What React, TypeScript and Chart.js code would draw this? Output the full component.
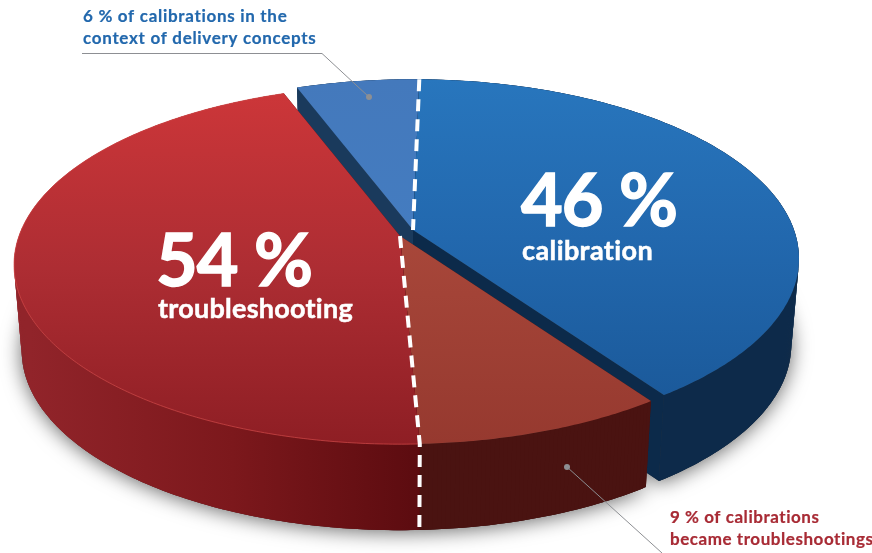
import React, { useEffect, useRef } from "react";
import { Chart, ArcElement, PieController, registerables } from "chart.js";

// Slices run clockwise, starting from the small "delivery concepts" wedge.
const categories = ["delivery concepts", "calibration", "became troubleshootings", "troubleshooting"];
const shares = [6, 40, 9, 45];
const calloutDelivery = ["6 % of calibrations in the", "context of delivery concepts"];
const calloutBecame = ["9 % of calibrations", "became troubleshootings"];
const calibrationTotal = shares[0] + shares[1];
const troubleshootingTotal = shares[2] + shares[3];

// Tilted-disc projection constants.
const PERSPECTIVE = 0.16;
const TILT = 0.459;
const DEPTH = 86;
const CONVERGE = 0.02;
const RADIUS = 381;
const ROTATION = -20.5;

type Stop = [number, string];
type SliceStyle = {
  shift: [number, number];
  top: Stop[];
  rim: Stop[];
  side: string;
  dashed?: boolean;
  rimLine?: string;
};

const sliceStyles: SliceStyle[] = [
  { shift: [13, -6], top: [[0, "#4479bc"], [1, "#447cc0"]], rim: [[0, "#1a3a5c"], [1, "#1a3a5c"]], side: "#1a3a5c" },
  { shift: [13, -6], top: [[0, "#2876bd"], [0.5, "#2268ae"], [1, "#1b5a9b"]], rim: [[0, "#0d2a4a"], [1, "#0d2a4a"]], side: "#0c2a4a", dashed: true },
  { shift: [0, 0], top: [[0, "#a8473a"], [1, "#96392f"]], rim: [[0, "#4c1512"], [1, "#4a1311"]], side: "#4a1311" },
  {
    shift: [0, 0],
    top: [[0, "#cc3639"], [0.5, "#ad2d33"], [1, "#8e1e24"]],
    rim: [[0, "#91242a"], [0.45, "#7c181c"], [0.85, "#5d0c10"], [1, "#520608"]],
    side: "#520608",
    dashed: true,
    rimLine: "rgba(214,72,72,0.7)",
  },
];

type Pt = [number, number];

const project = (x: number, y: number, R: number, u: number, v: number, t = 0): Pt => {
  const w = 1 - PERSPECTIVE * v;
  const px = (R * u) / w;
  const py = (R * TILT * v) / w;
  return [x + px * (1 - CONVERGE * t), y + py + DEPTH * t];
};

const trace = (ctx: CanvasRenderingContext2D, pts: Pt[]) => {
  pts.forEach((p, i) => (i ? ctx.lineTo(p[0], p[1]) : ctx.moveTo(p[0], p[1])));
};

const fillGradient = (
  ctx: CanvasRenderingContext2D,
  stops: Stop[],
  x0: number,
  y0: number,
  x1: number,
  y1: number,
) => {
  const g = ctx.createLinearGradient(x0, y0, x1, y1);
  stops.forEach(([o, c]) => g.addColorStop(o, c));
  return g;
};

// An arc that paints itself as a block seen from above: cut faces and rim first, then the top.
class PerspectiveArc extends ArcElement {
  static id = "perspectiveArc";
  sliceIndex = 0;

  rimPoints(t: number): Pt[] {
    const a0 = (this as any).startAngle as number;
    const a1 = (this as any).endAngle as number;
    const s = sliceStyles[this.sliceIndex];
    const cx = (this as any).x + s.shift[0];
    const cy = (this as any).y + s.shift[1];
    const R = (this as any).outerRadius as number;
    const n = Math.max(2, Math.ceil((a1 - a0) / 0.01));
    const out: Pt[] = [];
    for (let i = 0; i <= n; i++) {
      const a = a0 + ((a1 - a0) * i) / n;
      out.push(project(cx, cy, R, Math.cos(a), Math.sin(a), t));
    }
    return out;
  }

  apex(t: number): Pt {
    const s = sliceStyles[this.sliceIndex];
    return project((this as any).x + s.shift[0], (this as any).y + s.shift[1], 0, 0, 0, t);
  }

  draw(ctx: CanvasRenderingContext2D) {
    const s = sliceStyles[this.sliceIndex];
    const top = this.rimPoints(0);
    const bottom = this.rimPoints(1);
    const a = this.apex(0);
    const b = this.apex(1);
    ctx.save();

    // Cut faces along both radial edges.
    ctx.fillStyle = s.side;
    for (const idx of [0, top.length - 1]) {
      ctx.beginPath();
      trace(ctx, [a, top[idx], bottom[idx], b]);
      ctx.closePath();
      ctx.fill();
    }

    // Outer rim, laid down as overlapping strips so the silhouette stays solid where the rim turns away.
    ctx.fillStyle = this.sliceIndex === 2 ? s.side : fillGradient(ctx, s.rim, 30, 0, 480, 0);
    for (let i = 0; i < top.length - 1; i++) {
      const j = Math.min(i + 2, top.length - 1);
      ctx.beginPath();
      trace(ctx, [top[i], top[j], bottom[j], bottom[i]]);
      ctx.closePath();
      ctx.fill();
    }

    // Top face.
    const ys = top.map((p) => p[1]).concat(a[1]);
    ctx.fillStyle = fillGradient(ctx, s.top, 0, Math.min(...ys), 0, Math.max(...ys));
    ctx.beginPath();
    trace(ctx, [a, ...top]);
    ctx.closePath();
    ctx.fill();

    if (s.rimLine) {
      ctx.strokeStyle = s.rimLine;
      ctx.lineWidth = 1;
      ctx.beginPath();
      trace(ctx, top);
      ctx.stroke();
    }

    // White dashes marking the sub-share boundary, carried down the rim where it faces front.
    if (s.dashed) {
      ctx.strokeStyle = "#ffffff";
      ctx.lineWidth = 4;
      ctx.setLineDash([12, 8]);
      ctx.beginPath();
      const onFront = Math.sin((this as any).startAngle) > 0;
      trace(ctx, onFront ? [a, top[0], bottom[0]] : [top[0], a]);
      ctx.stroke();
      ctx.setLineDash([]);
    }
    ctx.restore();
  }
}

class BlockPieController extends PieController {
  static id = "blockPie";
  static defaults = { dataElementType: "perspectiveArc" };

  updateElements(arcs: any[], start: number, count: number, mode: any) {
    super.updateElements(arcs, start, count, mode);
    arcs.forEach((arc, i) => (arc.sliceIndex = i));
  }
}

Chart.register(...registerables, PerspectiveArc, BlockPieController as any);

// Soft contact shadow under the whole block.
const groundShadow = {
  id: "groundShadow",
  beforeDatasetsDraw(chart: any) {
    const { ctx } = chart;
    const arcs = chart.getDatasetMeta(0).data as PerspectiveArc[];
    ctx.save();
    ctx.shadowColor = "rgba(0,0,0,0.6)";
    ctx.shadowBlur = 20;
    ctx.shadowOffsetY = 2;
    ctx.fillStyle = "#333";
    ctx.beginPath();
    arcs.forEach((arc) => {
      const pts = [arc.apex(1), ...arc.rimPoints(1)];
      trace(ctx, pts);
      ctx.closePath();
    });
    ctx.fill();
    ctx.restore();
  },
};

const FONT = 'Lato, "Noto Sans", sans-serif';

const drawText = (
  ctx: CanvasRenderingContext2D,
  text: string,
  x: number,
  y: number,
  size: number,
  color: string,
  spacing = 0,
  embolden = 0,
) => {
  ctx.font = `bold ${size}px ${FONT}`;
  (ctx as any).letterSpacing = `${spacing}px`;
  ctx.fillStyle = color;
  ctx.textAlign = "left";
  ctx.textBaseline = "alphabetic";
  ctx.fillText(text, x, y);
  if (embolden) {
    ctx.strokeStyle = color;
    ctx.lineWidth = embolden;
    ctx.strokeText(text, x, y);
  }
};

const leader = (ctx: CanvasRenderingContext2D, pts: Pt[], dot: Pt) => {
  ctx.strokeStyle = "#8d8f93";
  ctx.lineWidth = 1;
  ctx.beginPath();
  trace(ctx, pts);
  ctx.stroke();
  ctx.fillStyle = "#8d8f93";
  ctx.beginPath();
  ctx.arc(dot[0], dot[1], 3, 0, Math.PI * 2);
  ctx.fill();
};

// Headline figures on the slices plus the two callouts with their leader lines.
const annotations = {
  id: "annotations",
  afterDatasetsDraw(chart: any) {
    const { ctx } = chart;
    ctx.save();
    drawText(ctx, `${calibrationTotal} %`, 521, 226, 72, "#ffffff", -1, 1.4);
    drawText(ctx, categories[1], 522, 260, 27, "#ffffff", 0.4, 0.5);
    drawText(ctx, `${troubleshootingTotal} %`, 156, 286, 72, "#ffffff", -1, 1.4);
    drawText(ctx, categories[3], 158, 318, 27, "#ffffff", 0.25, 0.5);

    leader(ctx, [[82, 53.5], [322, 53.5], [369, 97]], [369, 97]);
    leader(ctx, [[567, 467], [662, 553]], [567, 467]);

    calloutDelivery.forEach((line, i) => drawText(ctx, line, 83, 22 + i * 22, 17, "#2268ad", 0.7, 0.2));
    calloutBecame.forEach((line, i) => drawText(ctx, line, 670, 523 + i * 22, 17, "#a82b35", 0.55, 0.2));
    ctx.restore();
  },
};

export default function App() {
  const ref = useRef<HTMLCanvasElement>(null);

  useEffect(() => {
    document.body.style.margin = "0";
    const chart = new Chart(ref.current!, {
      type: "blockPie" as any,
      data: {
        labels: categories,
        datasets: [
          {
            data: shares,
            radius: RADIUS,
            rotation: ROTATION,
            backgroundColor: ["#4479bc", "#2268ae", "#a03f34", "#ad2d33"],
          } as any,
        ],
      },
      options: {
        responsive: false,
        animation: false,
        events: [],
        layout: { padding: { right: 72, bottom: 81 } },
        plugins: { legend: { display: false }, tooltip: { enabled: false } },
      } as any,
      plugins: [groundShadow, annotations],
    });
    return () => chart.destroy();
  }, []);

  return (
    <div style={{ width: 872, height: 553, overflow: "hidden", background: "#fff" }}>
      <canvas ref={ref} width={872} height={553} style={{ display: "block" }} />
    </div>
  );
}
